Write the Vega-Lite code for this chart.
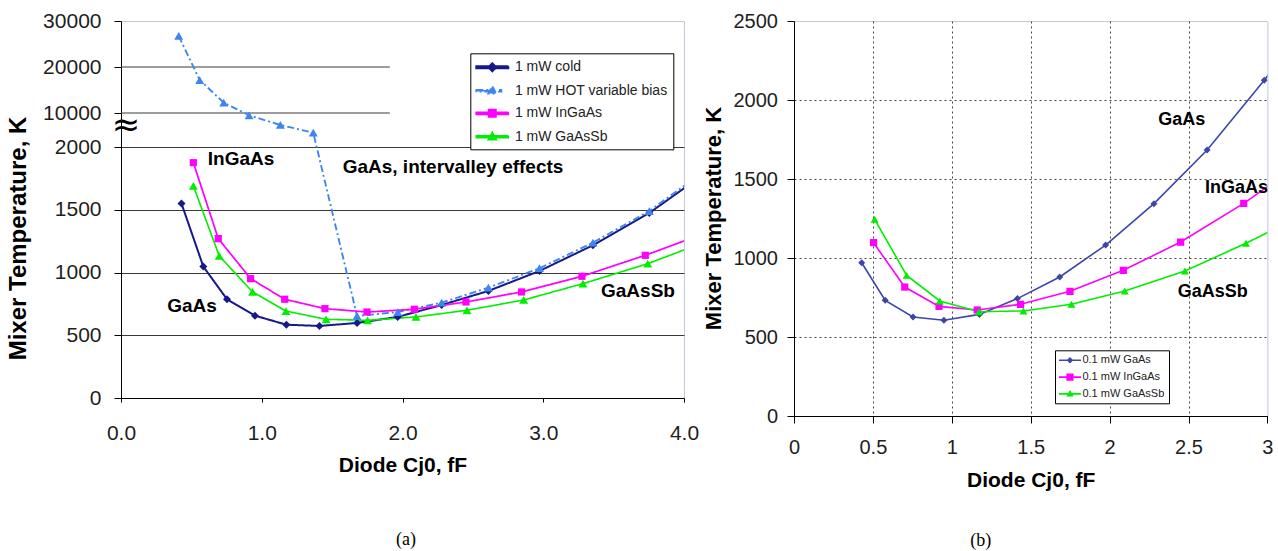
{
  "$schema": "https://vega.github.io/schema/vega-lite/v6.json",
  "background": "white",
  "padding": {"left": 5, "top": 9, "right": 0, "bottom": 0},
  "config": {
    "font": "Liberation Sans",
    "view": {"stroke": "#c4c8d8"},
    "axis": {"labelFont": "Liberation Sans", "titleFont": "Liberation Sans", "labelColor": "#1e1e1e", "titleColor": "#000000", "domainColor": "#000000", "tickColor": "#000000", "labelFlush": false, "labelOverlap": false}
  },
  "datasets": {
    "a": [
      {"s": "1 mW cold", "c": 0.43, "T": 1549}, {"s": "1 mW cold", "c": 0.585, "T": 1047}, {"s": "1 mW cold", "c": 0.753, "T": 787},
      {"s": "1 mW cold", "c": 0.952, "T": 656}, {"s": "1 mW cold", "c": 1.175, "T": 584}, {"s": "1 mW cold", "c": 1.41, "T": 574},
      {"s": "1 mW cold", "c": 1.677, "T": 598}, {"s": "1 mW cold", "c": 1.966, "T": 646}, {"s": "1 mW cold", "c": 2.278, "T": 741},
      {"s": "1 mW cold", "c": 2.61, "T": 853}, {"s": "1 mW cold", "c": 2.973, "T": 1012}, {"s": "1 mW cold", "c": 3.353, "T": 1217},
      {"s": "1 mW cold", "c": 3.753, "T": 1474}, {"s": "1 mW cold", "c": 4.2, "T": 1830},
      {"s": "1 mW HOT variable bias", "c": 0.41, "T": 26740}, {"s": "1 mW HOT variable bias", "c": 0.559, "T": 17170},
      {"s": "1 mW HOT variable bias", "c": 0.73, "T": 12240}, {"s": "1 mW HOT variable bias", "c": 0.91, "T": 9460},
      {"s": "1 mW HOT variable bias", "c": 1.132, "T": 7180}, {"s": "1 mW HOT variable bias", "c": 1.366, "T": 5365},
      {"s": "1 mW HOT variable bias", "c": 1.677, "T": 654}, {"s": "1 mW HOT variable bias", "c": 1.966, "T": 685},
      {"s": "1 mW HOT variable bias", "c": 2.278, "T": 760}, {"s": "1 mW HOT variable bias", "c": 2.61, "T": 879},
      {"s": "1 mW HOT variable bias", "c": 2.973, "T": 1034}, {"s": "1 mW HOT variable bias", "c": 3.353, "T": 1238},
      {"s": "1 mW HOT variable bias", "c": 3.753, "T": 1490}, {"s": "1 mW HOT variable bias", "c": 4.2, "T": 1852},
      {"s": "1 mW InGaAs", "c": 0.514, "T": 1875}, {"s": "1 mW InGaAs", "c": 0.691, "T": 1270}, {"s": "1 mW InGaAs", "c": 0.921, "T": 951},
      {"s": "1 mW InGaAs", "c": 1.163, "T": 787}, {"s": "1 mW InGaAs", "c": 1.449, "T": 712}, {"s": "1 mW InGaAs", "c": 1.748, "T": 685},
      {"s": "1 mW InGaAs", "c": 2.084, "T": 707}, {"s": "1 mW InGaAs", "c": 2.451, "T": 765}, {"s": "1 mW InGaAs", "c": 2.846, "T": 845},
      {"s": "1 mW InGaAs", "c": 3.275, "T": 970}, {"s": "1 mW InGaAs", "c": 3.725, "T": 1137}, {"s": "1 mW InGaAs", "c": 4.2, "T": 1334},
      {"s": "1 mW GaAsSb", "c": 0.514, "T": 1690}, {"s": "1 mW GaAsSb", "c": 0.698, "T": 1132}, {"s": "1 mW GaAsSb", "c": 0.935, "T": 845},
      {"s": "1 mW GaAsSb", "c": 1.172, "T": 693}, {"s": "1 mW GaAsSb", "c": 1.457, "T": 627}, {"s": "1 mW GaAsSb", "c": 1.752, "T": 619},
      {"s": "1 mW GaAsSb", "c": 2.096, "T": 646}, {"s": "1 mW GaAsSb", "c": 2.458, "T": 699}, {"s": "1 mW GaAsSb", "c": 2.861, "T": 781},
      {"s": "1 mW GaAsSb", "c": 3.282, "T": 911}, {"s": "1 mW GaAsSb", "c": 3.742, "T": 1070}, {"s": "1 mW GaAsSb", "c": 4.2, "T": 1265}
    ],
    "b": [
      {"s": "0.1 mW GaAs", "c": 0.429, "T": 970}, {"s": "0.1 mW GaAs", "c": 0.578, "T": 732}, {"s": "0.1 mW GaAs", "c": 0.754, "T": 627},
      {"s": "0.1 mW GaAs", "c": 0.95, "T": 606}, {"s": "0.1 mW GaAs", "c": 1.175, "T": 643}, {"s": "0.1 mW GaAs", "c": 1.416, "T": 743},
      {"s": "0.1 mW GaAs", "c": 1.684, "T": 880}, {"s": "0.1 mW GaAs", "c": 1.975, "T": 1082}, {"s": "0.1 mW GaAs", "c": 2.281, "T": 1344},
      {"s": "0.1 mW GaAs", "c": 2.618, "T": 1683}, {"s": "0.1 mW GaAs", "c": 2.98, "T": 2125}, {"s": "0.1 mW GaAs", "c": 3.3, "T": 2540},
      {"s": "0.1 mW InGaAs", "c": 0.504, "T": 1097}, {"s": "0.1 mW InGaAs", "c": 0.702, "T": 816}, {"s": "0.1 mW InGaAs", "c": 0.919, "T": 694},
      {"s": "0.1 mW InGaAs", "c": 1.161, "T": 671}, {"s": "0.1 mW InGaAs", "c": 1.436, "T": 707}, {"s": "0.1 mW InGaAs", "c": 1.749, "T": 789},
      {"s": "0.1 mW InGaAs", "c": 2.087, "T": 922}, {"s": "0.1 mW InGaAs", "c": 2.45, "T": 1101}, {"s": "0.1 mW InGaAs", "c": 2.85, "T": 1346},
      {"s": "0.1 mW InGaAs", "c": 3.3, "T": 1660},
      {"s": "0.1 mW GaAsSb", "c": 0.511, "T": 1245}, {"s": "0.1 mW GaAsSb", "c": 0.714, "T": 890}, {"s": "0.1 mW GaAsSb", "c": 0.924, "T": 728},
      {"s": "0.1 mW GaAsSb", "c": 1.172, "T": 660}, {"s": "0.1 mW GaAsSb", "c": 1.454, "T": 665}, {"s": "0.1 mW GaAsSb", "c": 1.758, "T": 707},
      {"s": "0.1 mW GaAsSb", "c": 2.096, "T": 791}, {"s": "0.1 mW GaAsSb", "c": 2.477, "T": 918}, {"s": "0.1 mW GaAsSb", "c": 2.864, "T": 1093},
      {"s": "0.1 mW GaAsSb", "c": 3.3, "T": 1308}
    ],
    "alab": [
      {"c": 0.853, "T": 1904, "lab": "InGaAs"},
      {"c": 2.359, "T": 1841, "lab": "GaAs, intervalley effects"},
      {"c": 0.504, "T": 733, "lab": "GaAs"},
      {"c": 3.673, "T": 853, "lab": "GaAsSb"}
    ],
    "abreak": [{"c": 0.036, "T": 6940, "lab": "≈"}],
    "agrid": [{"T": 10000, "c": 0, "c2": 1.91}, {"T": 20000, "c": 0, "c2": 1.91}],
    "blab": [
      {"c": 2.457, "T": 1873, "lab": "GaAs"},
      {"c": 2.805, "T": 1443, "lab": "InGaAs"},
      {"c": 2.653, "T": 785, "lab": "GaAsSb"}
    ]
  },
  "bounds": "flush",
  "spacing": 110,
  "resolve": {
    "scale": {"color": "independent", "shape": "independent", "strokeDash": "independent", "strokeWidth": "independent"},
    "legend": {"color": "independent", "shape": "independent"}
  },
  "hconcat": [
    {
      "width": 563,
      "height": 377,
      "data": {"name": "a"},
      "title": {"text": "(a)", "orient": "bottom", "anchor": "middle", "offset": 65, "baseline": "middle", "dx": 3.5, "font": "Liberation Serif", "fontSize": 18, "fontWeight": "normal", "color": "#000000"},
      "encoding": {
        "x": {
          "field": "c", "type": "quantitative",
          "scale": {"domain": [0, 4], "nice": false, "zero": false},
          "axis": {"title": "Diode Cj0, fF", "values": [0, 1, 2, 3, 4], "format": ".1f", "grid": false, "tickSize": 4, "labelFontSize": 21, "labelPadding": 20, "titleFontSize": 21, "titleFontWeight": "bold", "titlePadding": 11}
        },
        "y": {
          "field": "T", "type": "quantitative",
          "scale": {"type": "linear", "domain": [0, 2000, 10000, 30000], "range": [377, 126, 92, 0], "nice": false, "zero": false},
          "axis": {
            "title": "Mixer Temperature, K", "values": [0, 500, 1000, 1500, 2000, 10000, 20000, 30000], "format": "d",
            "grid": true, "gridColor": "#3a3a3a", "gridOpacity": {"condition": {"test": "datum.value > 2000", "value": 0}, "value": 1},
            "tickSize": 7, "labelFontSize": 21, "labelPadding": 13,
            "titleFontSize": 24, "titleFontWeight": "bold", "titleX": -91, "titleY": 217, "titleAlign": "center", "titleBaseline": "bottom", "titleAngle": -90
          }
        }
      },
      "layer": [
        {
          "mark": {"type": "point", "filled": true, "opacity": 0, "clip": true},
          "encoding": {
            "color": {"field": "s", "type": "nominal", "scale": {"domain": ["1 mW cold", "1 mW HOT variable bias", "1 mW InGaAs", "1 mW GaAsSb"], "range": ["#18188a", "#3d85f0", "#ff00ff", "#00ee00"]},
              "legend": {"title": null, "orient": "none", "legendX": 349.3, "legendY": 32.3, "padding": 5, "strokeColor": "#000000", "fillColor": "#ffffff", "labelFont": "Liberation Sans", "labelFontSize": 14, "labelColor": "#222222", "labelLimit": 400, "labelOffset": 21.6, "symbolSize": 256, "symbolOpacity": 1, "symbolStrokeWidth": 0, "rowPadding": 6.5}},
            "shape": {"field": "s", "type": "nominal",
              "scale": {"domain": ["1 mW cold", "1 mW HOT variable bias", "1 mW InGaAs", "1 mW GaAsSb"],
                "range": ["M-1,-0.12H3V0.12H-1ZM0.5,0L1,-0.5L1.5,0L1,0.5Z", "M-1,-0.1H0.79V0.1H-1ZM1.83,-0.1H2.13V0.1H1.83ZM1,-0.55L1.5,0.35L0.5,0.35Z", "M-1,-0.12H3V0.12H-1ZM0.55,-0.45H1.45V0.45H0.55Z", "M-1,-0.12H3V0.12H-1ZM1,-0.55L1.5,0.35L0.5,0.35Z"]},
              "legend": {"title": null, "orient": "none", "legendX": 349.3, "legendY": 32.3, "padding": 5, "strokeColor": "#000000", "fillColor": "#ffffff", "labelFont": "Liberation Sans", "labelFontSize": 14, "labelColor": "#222222", "labelLimit": 400, "labelOffset": 21.6, "symbolSize": 256, "symbolOpacity": 1, "symbolStrokeWidth": 0, "rowPadding": 6.5}}
          }
        },
        {
          "data": {"name": "agrid"},
          "mark": {"type": "rule", "color": "#3a3a3a", "strokeWidth": 1},
          "encoding": {"x": {"field": "c", "type": "quantitative"}, "x2": {"field": "c2"}, "y": {"field": "T", "type": "quantitative"}}
        },
        {
          "mark": {"type": "line", "clip": true},
          "encoding": {
            "color": {"field": "s", "type": "nominal", "legend": null},
            "strokeDash": {"field": "s", "type": "nominal", "scale": {"domain": ["1 mW cold", "1 mW HOT variable bias", "1 mW InGaAs", "1 mW GaAsSb"], "range": [[1, 0], [7, 3, 2, 3], [1, 0], [1, 0]]}, "legend": null},
            "strokeWidth": {"field": "s", "type": "nominal", "scale": {"domain": ["1 mW cold", "1 mW HOT variable bias", "1 mW InGaAs", "1 mW GaAsSb"], "range": [2, 1.6, 2, 2]}, "legend": null}
          }
        },
        {
          "transform": [{"filter": "datum.s == '1 mW cold'"}],
          "mark": {"type": "point", "filled": true, "shape": "diamond", "size": 64, "color": "#18188a", "opacity": 1, "clip": true}
        },
        {
          "transform": [{"filter": "datum.s == '1 mW HOT variable bias'"}],
          "mark": {"type": "point", "filled": true, "shape": "triangle-up", "size": 80, "color": "#3d85f0", "opacity": 1, "clip": true}
        },
        {
          "transform": [{"filter": "datum.s == '1 mW InGaAs'"}],
          "mark": {"type": "point", "filled": true, "shape": "square", "size": 52, "color": "#ff00ff", "opacity": 1, "clip": true}
        },
        {
          "transform": [{"filter": "datum.s == '1 mW GaAsSb'"}],
          "mark": {"type": "point", "filled": true, "shape": "triangle-up", "size": 80, "color": "#00ee00", "opacity": 1, "clip": true}
        },
        {
          "data": {"name": "alab"},
          "mark": {"type": "text", "font": "Liberation Sans", "fontWeight": "bold", "fontSize": 19, "align": "center", "baseline": "middle", "color": "#000000"},
          "encoding": {"text": {"field": "lab", "type": "nominal"}}
        },
        {
          "data": {"name": "abreak"},
          "mark": {"type": "text", "font": "DejaVu Sans", "fontSize": 34, "align": "center", "baseline": "middle", "color": "#000000"},
          "encoding": {"text": {"field": "lab", "type": "nominal"}}
        }
      ]
    },
    {
      "width": 473.4,
      "height": 395,
      "data": {"name": "b"},
      "title": {"text": "(b)", "orient": "bottom", "anchor": "middle", "offset": 51, "baseline": "middle", "dx": -50, "font": "Liberation Serif", "fontSize": 18, "fontWeight": "normal", "color": "#000000"},
      "encoding": {
        "x": {
          "field": "c", "type": "quantitative",
          "scale": {"domain": [0, 3], "nice": false, "zero": false},
          "axis": {"title": "Diode Cj0, fF", "values": [0, 0.5, 1, 1.5, 2, 2.5, 3], "format": "~g", "grid": true, "gridColor": "#444444", "gridDash": [2, 3], "gridOpacity": {"condition": {"test": "datum.value == 0 || datum.value >= 3", "value": 0}, "value": 1}, "tickSize": 7, "labelFontSize": 20, "labelPadding": 14, "titleFontSize": 21, "titleFontWeight": "bold", "titlePadding": 12}
        },
        "y": {
          "field": "T", "type": "quantitative",
          "scale": {"domain": [0, 2500], "nice": false, "zero": false},
          "axis": {"title": "Mixer Temperature, K", "values": [0, 500, 1000, 1500, 2000, 2500], "format": "d", "grid": true, "gridColor": "#444444", "gridDash": [2, 3], "gridOpacity": {"condition": {"test": "datum.value == 0 || datum.value >= 2500", "value": 0}, "value": 1}, "tickSize": 7, "labelFontSize": 20, "labelPadding": 9.5, "titleFontSize": 22, "titleFontWeight": "bold", "titleX": -69, "titleY": 197, "titleAlign": "center", "titleBaseline": "bottom", "titleAngle": -90}
        }
      },
      "layer": [
        {
          "mark": {"type": "point", "filled": true, "opacity": 0, "clip": true},
          "encoding": {
            "color": {"field": "s", "type": "nominal", "scale": {"domain": ["0.1 mW GaAs", "0.1 mW InGaAs", "0.1 mW GaAsSb"], "range": ["#3c46a8", "#ff00ff", "#00ee00"]},
              "legend": {"title": null, "orient": "none", "legendX": 261, "legendY": 329.3, "padding": 4, "strokeColor": "#000000", "fillColor": "#ffffff", "labelFont": "Liberation Sans", "labelFontSize": 11, "labelColor": "#222222", "labelLimit": 300, "labelOffset": 11.4, "symbolSize": 144, "symbolOpacity": 1, "symbolStrokeWidth": 0, "rowPadding": 5.8}},
            "shape": {"field": "s", "type": "nominal",
              "scale": {"domain": ["0.1 mW GaAs", "0.1 mW InGaAs", "0.1 mW GaAsSb"],
                "range": ["M-1,-0.13H2.67V0.13H-1ZM0.28,0L0.83,-0.55L1.38,0L0.83,0.55Z", "M-1,-0.13H2.67V0.13H-1ZM0.23,-0.6H1.43V0.6H0.23Z", "M-1,-0.13H2.67V0.13H-1ZM0.83,-0.65L1.45,0.45L0.21,0.45Z"]},
              "legend": {"title": null, "orient": "none", "legendX": 261, "legendY": 329.3, "padding": 4, "strokeColor": "#000000", "fillColor": "#ffffff", "labelFont": "Liberation Sans", "labelFontSize": 11, "labelColor": "#222222", "labelLimit": 300, "labelOffset": 11.4, "symbolSize": 144, "symbolOpacity": 1, "symbolStrokeWidth": 0, "rowPadding": 5.8}}
          }
        },
        {
          "mark": {"type": "line", "clip": true, "strokeWidth": 1.6},
          "encoding": {
            "color": {"field": "s", "type": "nominal", "legend": null}
          }
        },
        {
          "transform": [{"filter": "datum.s == '0.1 mW GaAs'"}],
          "mark": {"type": "point", "filled": true, "shape": "diamond", "size": 49, "color": "#3c46a8", "opacity": 1, "clip": true}
        },
        {
          "transform": [{"filter": "datum.s == '0.1 mW InGaAs'"}],
          "mark": {"type": "point", "filled": true, "shape": "square", "size": 52, "color": "#ff00ff", "opacity": 1, "clip": true}
        },
        {
          "transform": [{"filter": "datum.s == '0.1 mW GaAsSb'"}],
          "mark": {"type": "point", "filled": true, "shape": "triangle-up", "size": 64, "color": "#00ee00", "opacity": 1, "clip": true}
        },
        {
          "data": {"name": "blab"},
          "mark": {"type": "text", "font": "Liberation Sans", "fontWeight": "bold", "fontSize": 18, "align": "center", "baseline": "middle", "color": "#000000"},
          "encoding": {"text": {"field": "lab", "type": "nominal"}}
        }
      ]
    }
  ]
}
